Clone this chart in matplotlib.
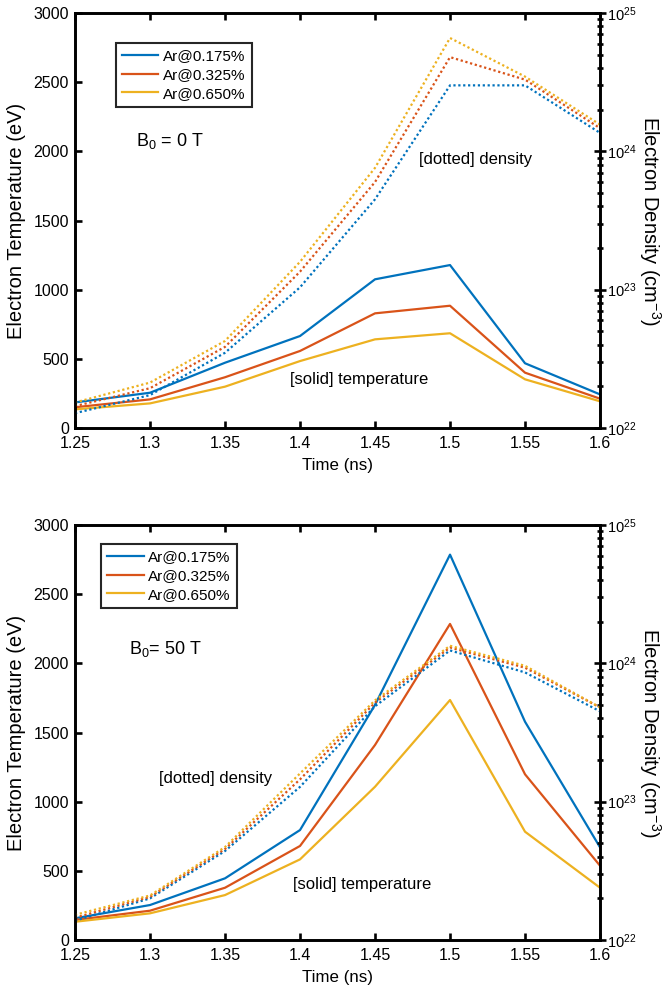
import numpy as np
import matplotlib
matplotlib.use("Agg")
import matplotlib.pyplot as plt
from matplotlib.ticker import LogLocator, NullFormatter

plt.rcParams['font.family'] = ['Liberation Sans', 'DejaVu Sans']
plt.rcParams['mathtext.fontset'] = 'custom'
plt.rcParams['mathtext.rm'] = 'Liberation Sans'
plt.rcParams['mathtext.it'] = 'Liberation Sans'

# time axis (ns)
time = [1.25, 1.3, 1.35, 1.4, 1.45, 1.5, 1.55, 1.6]
labels = ['Ar@0.175%', 'Ar@0.325%', 'Ar@0.650%']
colors = ['#0072BD', '#D95319', '#EDB120']

# B0 = 0 T : electron temperature (eV)
temp_0T = [
    [185, 255, 472, 665, 1075, 1178, 468, 243],
    [150, 207, 367, 557, 829, 884, 400, 212],
    [135, 178, 299, 484, 641, 685, 352, 193],
]
# B0 = 0 T : electron density (cm^-3)
dens_0T = [
    [1.28e22, 1.73e22, 3.5e22, 1.04e23, 4.5e23, 3.0e24, 3.0e24, 1.36e24],
    [1.44e22, 1.94e22, 3.86e22, 1.35e23, 6.0e23, 4.8e24, 3.3e24, 1.47e24],
    [1.53e22, 2.13e22, 4.26e22, 1.59e23, 7.6e23, 6.6e24, 3.47e24, 1.56e24],
]

# B0 = 50 T : electron temperature (eV)
temp_50T = [
    [157, 253, 446, 795, 1700, 2786, 1578, 670],
    [145, 212, 378, 680, 1410, 2285, 1198, 537],
    [132, 193, 325, 583, 1108, 1735, 783, 378],
]
# B0 = 50 T : electron density (cm^-3)
dens_50T = [
    [1.38e22, 2.0e22, 4.4e22, 1.28e23, 4.9e23, 1.24e24, 8.6e23, 4.5e23],
    [1.45e22, 2.05e22, 4.55e22, 1.45e23, 5.2e23, 1.30e24, 9.3e23, 4.8e23],
    [1.52e22, 2.1e22, 4.7e22, 1.6e23, 5.4e23, 1.34e24, 9.6e23, 4.8e23],
]

xtick_labels = ['1.25', '1.3', '1.35', '1.4', '1.45', '1.5', '1.55', '1.6']

fig = plt.figure(figsize=(6.65, 9.94), dpi=100)
FS = 11.5
LW_AX = 1.9


def panel(rect, temps, dens, b_text, b_xy, dens_xy, temp_xy, leg_anchor):
    ax = fig.add_axes(rect)
    ax2 = ax.twinx()
    for i in range(3):
        ax.plot(time, temps[i], color=colors[i], lw=1.6, label=labels[i])
        ax2.plot(time, dens[i], color=colors[i], lw=1.6, ls=(0, (1, 1.2)))
    ax.set_xlim(1.25, 1.6)
    ax.set_ylim(0, 3000)
    ax.set_yticks(np.arange(0, 3001, 500))
    ax.set_xticks(time)
    ax.set_xticklabels(xtick_labels)
    ax2.set_yscale('log')
    ax2.set_ylim(1e22, 1e25)
    ax2.yaxis.set_major_locator(LogLocator(base=10, numticks=10))
    ax2.yaxis.set_minor_locator(LogLocator(base=10, subs=np.arange(2, 10), numticks=20))
    ax2.yaxis.set_minor_formatter(NullFormatter())
    for a in (ax, ax2):
        for s in a.spines.values():
            s.set_linewidth(LW_AX)
    ax.tick_params(axis='x', direction='in', length=5, width=LW_AX,
                   labelsize=FS, top=True, pad=6)
    ax.tick_params(axis='y', direction='in', length=5, width=LW_AX,
                   labelsize=FS, right=False, pad=4.5)
    ax2.tick_params(axis='y', which='major', direction='inout', length=8,
                    width=LW_AX, labelsize=10.5, pad=1)
    ax2.tick_params(axis='y', which='minor', direction='inout', length=5,
                    width=LW_AX)
    ax.set_xlabel('Time (ns)', fontsize=12.2, labelpad=5)
    ax.set_ylabel('Electron Temperature (eV)', fontsize=14.5, labelpad=5)
    ax2.set_ylabel('Electron Density (cm$^{-3}$)', fontsize=14.5,
                   rotation=-90, labelpad=19)
    leg = ax.legend(loc='upper left', bbox_to_anchor=leg_anchor, fontsize=11,
                    frameon=True, fancybox=False, framealpha=1, handlelength=2.4,
                    borderpad=0.4, labelspacing=0.3, handletextpad=0.3,
                    borderaxespad=0)
    leg.get_frame().set_edgecolor('#262626')
    leg.get_frame().set_linewidth(1.5)
    ax.text(b_xy[0], b_xy[1], b_text, transform=ax.transAxes, fontsize=13,
            va='baseline')
    ax.text(dens_xy[0], dens_xy[1], '[dotted] density', transform=ax.transAxes,
            fontsize=12, va='center')
    ax.text(temp_xy[0], temp_xy[1], '[solid] temperature', transform=ax.transAxes,
            fontsize=12, va='center')
    return ax


panel([0.1128, 0.5694, 0.7895, 0.4175], temp_0T, dens_0T,
      r'B$_0$ = 0 T', (0.117, 0.68), (0.655, 0.648), (0.41, 0.116), (0.0775, 0.927))
panel([0.1128, 0.0543, 0.7895, 0.4175], temp_50T, dens_50T,
      r'B$_0$= 50 T', (0.103, 0.689), (0.16, 0.39), (0.415, 0.135), (0.049, 0.9535))

fig.savefig('out.png', dpi=100)
